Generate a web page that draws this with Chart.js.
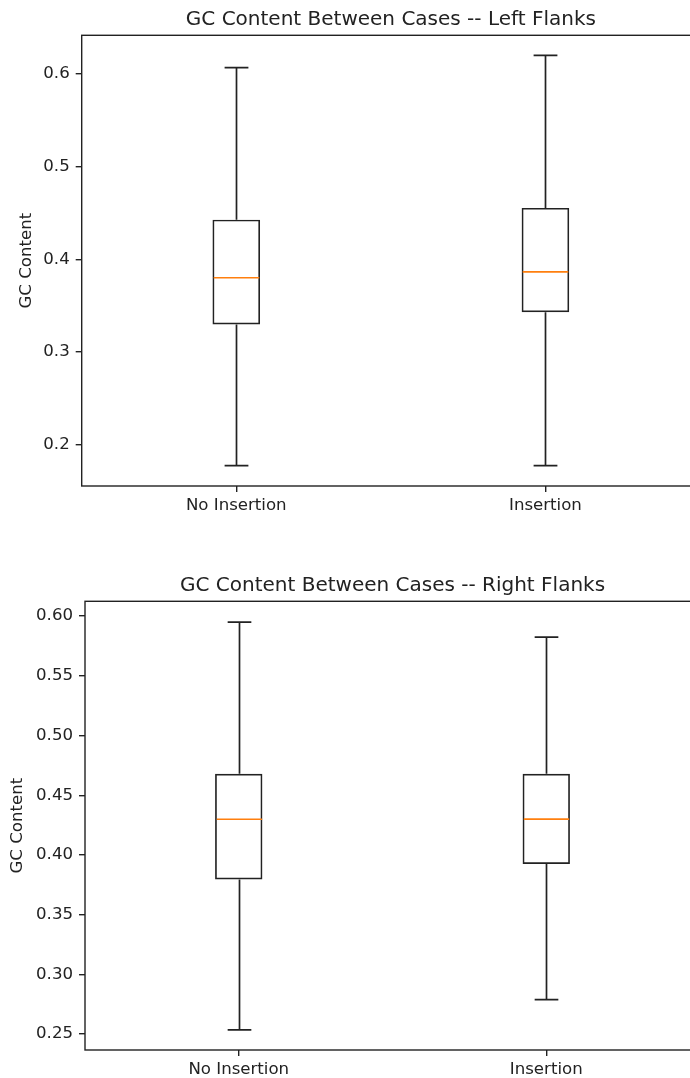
<!DOCTYPE html>
<html>
<head>
<meta charset="utf-8">
<script src="https://cdn.jsdelivr.net/npm/chart.js@4.4.1/dist/chart.umd.min.js"></script>
<style>
    html, body { margin: 0; padding: 0; background: #fff; overflow: hidden; width: 690px; height: 1078px; }
    canvas { position: absolute; left: 0; }
    #leftChart { top: 0; }
    #rightChart { top: 566px; }
</style>
</head>
<body>
<canvas id="leftChart" width="700" height="540"></canvas>
<canvas id="rightChart" width="700" height="512"></canvas>
<script>
const categories = ["No Insertion", "Insertion"];

// left flanks
const leftLow = [0.177, 0.177];
const leftQ1 = [0.3296, 0.3428];
const leftMedian = [0.380, 0.3864];
const leftQ3 = [0.4428, 0.4555];
const leftHigh = [0.6071, 0.6203];
const leftTicks = [0.2, 0.3, 0.4, 0.5, 0.6];

// right flanks
const rightLow = [0.2534, 0.2788];
const rightQ1 = [0.3795, 0.3924];
const rightMedian = [0.4298, 0.430];
const rightQ3 = [0.468, 0.468];
const rightHigh = [0.595, 0.5824];
const rightTicks = [0.25, 0.30, 0.35, 0.40, 0.45, 0.50, 0.55, 0.60];

const FONT = "'DejaVu Sans', sans-serif";
const INK = "#222";

// whiskers, caps, medians and the frame round the plot area
const boxExtras = {
    id: "boxExtras",
    afterDatasetsDraw(chart, args, opts) {
        const { ctx, chartArea } = chart;
        const x = chart.scales.x;
        const y = chart.scales.y;
        const bars = chart.getDatasetMeta(0).data;

        ctx.save();
        opts.low.forEach((lo, i) => {
            const cx = Math.round(x.getPixelForValue(i)) + 0.5;
            const half = bars[i].width / 2;
            const cap = half / 2;

            ctx.strokeStyle = INK;
            ctx.lineWidth = 1.7;
            ctx.beginPath();
            ctx.moveTo(cx, y.getPixelForValue(opts.q3[i]));
            ctx.lineTo(cx, y.getPixelForValue(opts.high[i]));
            ctx.moveTo(cx - cap, y.getPixelForValue(opts.high[i]));
            ctx.lineTo(cx + cap, y.getPixelForValue(opts.high[i]));
            ctx.moveTo(cx, y.getPixelForValue(opts.q1[i]));
            ctx.lineTo(cx, y.getPixelForValue(lo));
            ctx.moveTo(cx - cap, y.getPixelForValue(lo));
            ctx.lineTo(cx + cap, y.getPixelForValue(lo));
            ctx.stroke();

            ctx.strokeStyle = "#ff7f0e";
            ctx.lineWidth = 1.6;
            ctx.beginPath();
            ctx.moveTo(cx - half + 1, y.getPixelForValue(opts.median[i]));
            ctx.lineTo(cx + half - 1, y.getPixelForValue(opts.median[i]));
            ctx.stroke();
        });

        ctx.strokeStyle = INK;
        ctx.lineWidth = 1.4;
        ctx.strokeRect(chartArea.left, chartArea.top, chartArea.right - chartArea.left, chartArea.bottom - chartArea.top);
        ctx.restore();
    }
};

function makeBoxChart(id, title, low, q1, median, q3, high, ticks, decimals, yMin, yMax, yWidth, xHeight, yTitlePad) {
    return new Chart(document.getElementById(id), {
        type: "bar",
        data: {
            labels: categories,
            datasets: [{
                data: q1.map((v, i) => [v, q3[i]]),
                backgroundColor: "rgba(0,0,0,0)",
                borderColor: INK,
                borderWidth: 1.7,
                borderSkipped: false,
                barPercentage: 0.154,
                categoryPercentage: 1
            }]
        },
        options: {
            responsive: false,
            animation: false,
            events: [],
            layout: { padding: 0 },
            scales: {
                x: {
                    afterFit: (axis) => { axis.height = xHeight; },
                    ticks: { color: INK, padding: 4, font: { family: FONT, size: 16.6 } },
                    grid: { drawOnChartArea: false, offset: false, tickLength: 6, color: INK, lineWidth: 1.4 },
                    border: { display: false }
                },
                y: {
                    min: yMin,
                    max: yMax,
                    afterBuildTicks: (axis) => { axis.ticks = ticks.map(v => ({ value: v })); },
                    afterFit: (axis) => { axis.width = yWidth; },
                    ticks: {
                        color: INK,
                        padding: 6,
                        font: { family: FONT, size: 16.6 },
                        callback: (v) => Number(v).toFixed(decimals)
                    },
                    grid: { drawOnChartArea: false, tickLength: 6, color: INK, lineWidth: 1.4 },
                    border: { display: false },
                    title: {
                        display: true,
                        text: "GC Content",
                        color: INK,
                        font: { family: FONT, size: 16.6 },
                        padding: { top: yTitlePad, bottom: 0 }
                    }
                }
            },
            plugins: {
                legend: { display: false },
                tooltip: { enabled: false },
                title: {
                    display: true,
                    text: title,
                    fullSize: false,
                    color: INK,
                    font: { family: FONT, size: 20, weight: "normal" },
                    padding: { top: 8, bottom: 3.3 }
                },
                boxExtras: { low, q1, median, q3, high }
            }
        },
        plugins: [boxExtras]
    });
}

makeBoxChart("leftChart", "GC Content Between Cases -- Left Flanks",
    leftLow, leftQ1, leftMedian, leftQ3, leftHigh, leftTicks, 1,
    0.155, 0.642, 81.7, 54, 17);

makeBoxChart("rightChart", "GC Content Between Cases -- Right Flanks",
    rightLow, rightQ1, rightMedian, rightQ3, rightHigh, rightTicks, 2,
    0.2366, 0.6124, 85, 28, 7.5);
</script>
</body>
</html>
